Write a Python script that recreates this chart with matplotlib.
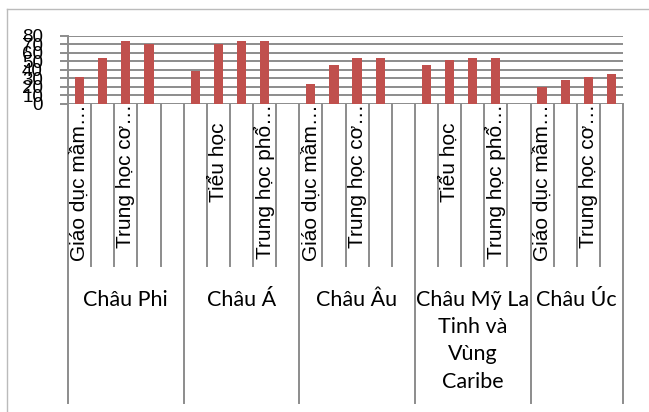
import matplotlib
matplotlib.use("Agg")
import matplotlib.pyplot as plt
from matplotlib.lines import Line2D
from matplotlib.transforms import blended_transform_factory

# chart data
regions = ["Châu Phi", "Châu Á", "Châu Âu", "Châu Mỹ La\nTinh và\nVùng\nCaribe", "Châu Úc"]
levels = ["Giáo dục mầm…", "Tiểu học", "Trung học cơ…", "Trung học phổ…", ""]
values_phi = [32, 54, 74, 71, None]
values_a = [38, 71, 74, 74, None]
values_au = [23, 46, 54, 54, None]
values_my = [46, 51, 54, 54, None]
values_uc = [20, 28, 32, 35]
y_ticks = [0, 10, 20, 30, 40, 50, 60, 70, 80]

region_values = [values_phi, values_a, values_au, values_my, values_uc]

W, H = 649, 412
BAR = "#C0504D"
GRID = "#8C8C8C"

fig = plt.figure(figsize=(W / 100, H / 100), dpi=100)
fig.patch.set_facecolor("white")


def fy(px):
    return 1 - px / H


ax = fig.add_axes([68 / W, fy(103.5), (623 - 68) / W, (103.5 - 36) / H])

# flatten categories into slots
slots_x, slots_val, slot_labels, group_spans = [], [], [], []
i = 0
for region, vals in zip(regions, region_values):
    start = i
    for lvl, v in zip(levels, vals):
        slots_x.append(i)
        slots_val.append(v)
        slot_labels.append(lvl)
        i += 1
    group_spans.append((start, i - 1))
n_slots = i

bx = [x for x, v in zip(slots_x, slots_val) if v is not None]
bv = [v for v in slots_val if v is not None]
ax.bar(bx, bv, width=0.4, color=BAR, zorder=3)

ax.set_xlim(-0.5, n_slots - 0.5)
ax.set_ylim(0, 80)
ax.set_yticks(y_ticks)
ax.set_xticks([])
for s in ax.spines.values():
    s.set_visible(False)
ax.yaxis.grid(True, color=GRID, linewidth=1.4, zorder=0)
ax.tick_params(axis="y", length=6, width=1.4, color=GRID, pad=12,
               labelsize=13.5, labelcolor="black")
for lab in ax.get_yticklabels():
    lab.set_family("Liberation Sans")

# category axis drawn below the plot
tr = blended_transform_factory(ax.transData, fig.transFigure)
group_edges = {s for s, _ in group_spans} | {n_slots}
for b in range(n_slots + 1):
    x = b - 0.5
    bottom = 403 if b in group_edges else 266
    ax.add_line(Line2D([x, x], [fy(36 if b == 0 else 103.5), fy(bottom)],
                       transform=tr, color=GRID, linewidth=1.4, clip_on=False, zorder=1))

# every other level label, as the reference shows
for x, lab in zip(slots_x, slot_labels):
    if x % 2 or not lab:
        continue
    if lab.endswith("…"):
        ax.text(x, fy(104), lab, transform=tr, rotation=90, ha="center", va="top",
                fontsize=15, family="Liberation Sans")
    else:
        ax.text(x, fy(162), lab, transform=tr, rotation=90, ha="center", va="center",
                fontsize=15, family="Liberation Sans")

for region, (s, e) in zip(regions, group_spans):
    ax.text((s + e) / 2, fy(290), region, transform=tr, ha="center", va="top",
            fontsize=15.5, family=["Lato", "DejaVu Sans"], linespacing=1.45)

# outer chart frame (cut off at right and bottom)
fig.add_artist(Line2D([7 / W, 1], [fy(9), fy(9)], color="#BBBBBB", linewidth=1))
fig.add_artist(Line2D([7 / W, 7 / W], [fy(9), 0], color="#BBBBBB", linewidth=1))

fig.savefig("out.png", dpi=100)
